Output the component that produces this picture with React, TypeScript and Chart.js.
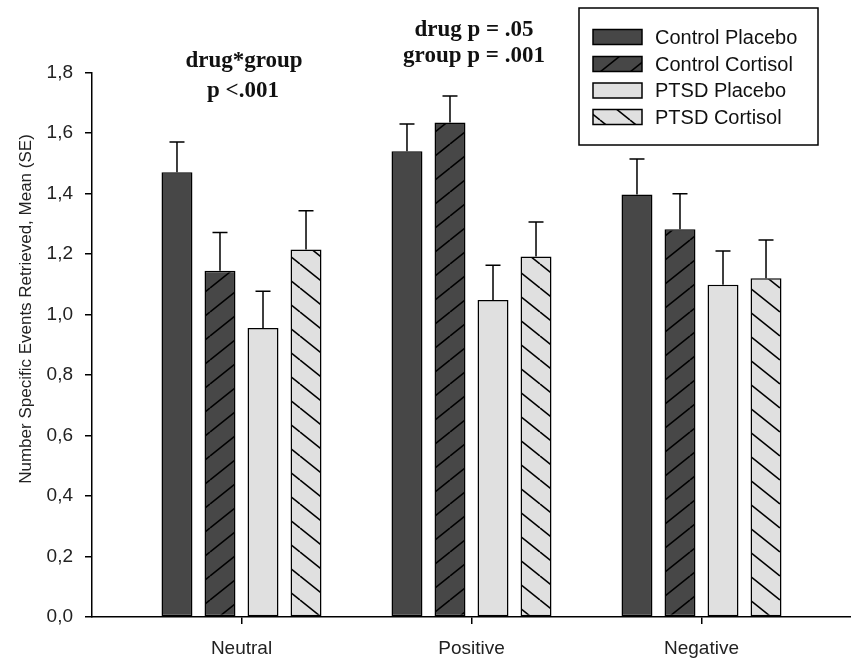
import { useEffect, useRef } from "react";
import { Chart, registerables } from "chart.js";

Chart.register(...registerables);

// ---- data ----
const categories = ["Neutral", "Positive", "Negative"];
const seriesNames = ["Control Placebo", "Control Cortisol", "PTSD Placebo", "PTSD Cortisol"];
const controlPlacebo = [1.47, 1.54, 1.397];
const controlPlaceboSE = [0.1, 0.09, 0.117];
const controlCortisol = [1.145, 1.635, 1.282];
const controlCortisolSE = [0.126, 0.087, 0.117];
const ptsdPlacebo = [0.955, 1.048, 1.098];
const ptsdPlaceboSE = [0.122, 0.115, 0.112];
const ptsdCortisol = [1.215, 1.192, 1.12];
const ptsdCortisolSE = [0.128, 0.114, 0.126];
const yTickValues = [0, 0.2, 0.4, 0.6, 0.8, 1.0, 1.2, 1.4, 1.6, 1.8];
const annotationLeft = ["drug*group", "p <.001"];
const annotationMid = ["drug p = .05", "group p = .001"];
const yTitle = "Number Specific Events Retrieved, Mean (SE)";

const seriesValues = [controlPlacebo, controlCortisol, ptsdPlacebo, ptsdCortisol];
const seriesErrors = [controlPlaceboSE, controlCortisolSE, ptsdPlaceboSE, ptsdCortisolSE];

const DARK = "#474747";
const LIGHT = "#e0e0e0";
const SANS = "'Liberation Sans', Arial, sans-serif";
const SERIF = "'Liberation Serif', 'Times New Roman', serif";

function makeFill(bg: string, hatch: 0 | 1 | -1): string | CanvasPattern {
  if (hatch === 0) return bg;
  const w = 30;
  const h = 24;
  const c = document.createElement("canvas");
  c.width = w;
  c.height = h;
  const ctx = c.getContext("2d")!;
  ctx.fillStyle = bg;
  ctx.fillRect(0, 0, w, h);
  ctx.strokeStyle = "#000";
  ctx.lineWidth = 1.6;
  for (const k of [-1, 0, 1]) {
    ctx.beginPath();
    if (hatch === 1) {
      ctx.moveTo(0, h + k * h);
      ctx.lineTo(w, k * h);
    } else {
      ctx.moveTo(0, k * h);
      ctx.lineTo(w, h + k * h);
    }
    ctx.stroke();
  }
  return ctx.createPattern(c, "repeat")!;
}

export default function App() {
  const ref = useRef<HTMLCanvasElement | null>(null);

  useEffect(() => {
    if (!ref.current) return;
    const fills = [
      makeFill(DARK, 0),
      makeFill(DARK, 1),
      makeFill(LIGHT, 0),
      makeFill(LIGHT, -1),
    ];

    const errorBars = {
      id: "errorBars",
      afterDatasetsDraw(chart: any) {
        const ctx = chart.ctx;
        const ys = chart.scales.y;
        ctx.save();
        ctx.strokeStyle = "#000";
        ctx.lineWidth = 1.5;
        chart.data.datasets.forEach((ds: any, i: number) => {
          const meta = chart.getDatasetMeta(i);
          meta.data.forEach((bar: any, j: number) => {
            const v = seriesValues[i][j];
            const e = seriesErrors[i][j];
            const yTop = ys.getPixelForValue(v + e);
            ctx.beginPath();
            ctx.moveTo(bar.x, bar.y);
            ctx.lineTo(bar.x, yTop);
            ctx.moveTo(bar.x - 7.5, yTop);
            ctx.lineTo(bar.x + 7.5, yTop);
            ctx.stroke();
          });
        });
        ctx.restore();
      },
    };

    const decorations = {
      id: "decorations",
      afterDraw(chart: any) {
        const ctx = chart.ctx;
        ctx.save();
        // y title
        ctx.fillStyle = "#222";
        ctx.font = `17px ${SANS}`;
        ctx.textAlign = "center";
        ctx.textBaseline = "middle";
        ctx.translate(26, 309);
        ctx.rotate(-Math.PI / 2);
        ctx.fillText(yTitle, 0, 0);
        ctx.setTransform(1, 0, 0, 1, 0, 0);

        // annotations
        ctx.fillStyle = "#111";
        ctx.font = `bold 23px ${SERIF}`;
        ctx.textAlign = "center";
        ctx.textBaseline = "alphabetic";
        ctx.fillText(annotationLeft[0], 244, 67);
        ctx.fillText(annotationLeft[1], 243, 97);
        ctx.fillText(annotationMid[0], 474, 36);
        ctx.fillText(annotationMid[1], 474, 62);

        // legend
        ctx.strokeStyle = "#000";
        ctx.lineWidth = 1.5;
        ctx.fillStyle = "#fff";
        ctx.fillRect(579, 8, 239, 137);
        ctx.strokeRect(579, 8, 239, 137);
        const rowY = [37, 64, 90.5, 117];
        seriesNames.forEach((name, i) => {
          const cy = rowY[i];
          ctx.fillStyle = fills[i] as any;
          ctx.fillRect(593, cy - 7.5, 49, 15);
          ctx.strokeRect(593, cy - 7.5, 49, 15);
          ctx.fillStyle = "#111";
          ctx.font = `20px ${SANS}`;
          ctx.textAlign = "left";
          ctx.textBaseline = "middle";
          ctx.fillText(name, 655, cy + 1);
        });
        ctx.restore();
      },
    };

    const chart = new Chart(ref.current, {
      type: "bar",
      data: {
        datasets: seriesNames.map((name, i) => ({
          label: name,
          data: seriesValues[i].map((v, j) => ({ x: j + 1, y: v })),
          backgroundColor: fills[i] as any,
          borderColor: "#000",
          borderWidth: 1.5,
          borderSkipped: false,
          categoryPercentage: 0.748,
          barPercentage: 0.72,
        })),
      },
      options: {
        animation: false,
        responsive: false,
        events: [],
        layout: { padding: { top: 72.5, left: 0, right: 0, bottom: 0 } },
        plugins: {
          legend: { display: false },
          tooltip: { enabled: false },
        },
        scales: {
          x: {
            type: "linear",
            min: 0.35,
            max: 3.65,
            offset: false,
            afterBuildTicks: (s: any) => {
              s.ticks = categories.map((_, i) => ({ value: i + 1 }));
            },
            afterFit: (s: any) => {
              s.height = 44;
            },
            ticks: {
              callback: (v: any) => categories[Math.round(Number(v)) - 1] ?? "",
              font: { family: SANS, size: 19 },
              color: "#222",
              padding: 13,
              maxRotation: 0,
              autoSkip: false,
            },
            grid: {
              offset: false,
              drawOnChartArea: false,
              drawTicks: true,
              tickLength: 7,
              color: "#000",
              lineWidth: 1.5,
            },
            border: { display: true, color: "#000", width: 1.5 },
          },
          y: {
            min: 0,
            max: 1.8,
            afterBuildTicks: (s: any) => {
              s.ticks = yTickValues.map((v) => ({ value: v }));
            },
            afterFit: (s: any) => {
              s.width = 92;
            },
            ticks: {
              callback: (v: any) => Number(v).toFixed(1).replace(".", ","),
              font: { family: SANS, size: 19 },
              color: "#222",
              padding: 12,
            },
            grid: {
              drawOnChartArea: false,
              drawTicks: true,
              tickLength: 7,
              color: "#000",
              lineWidth: 1.5,
            },
            border: { display: true, color: "#000", width: 1.5 },
          },
        },
      },
      plugins: [errorBars, decorations],
    } as any);

    return () => chart.destroy();
  }, []);

  return (
    <div style={{ position: "fixed", left: 0, top: 0, width: 851, height: 661, background: "#fff" }}>
      <canvas ref={ref} width={851} height={661} style={{ width: 851, height: 661, display: "block" }} />
    </div>
  );
}
